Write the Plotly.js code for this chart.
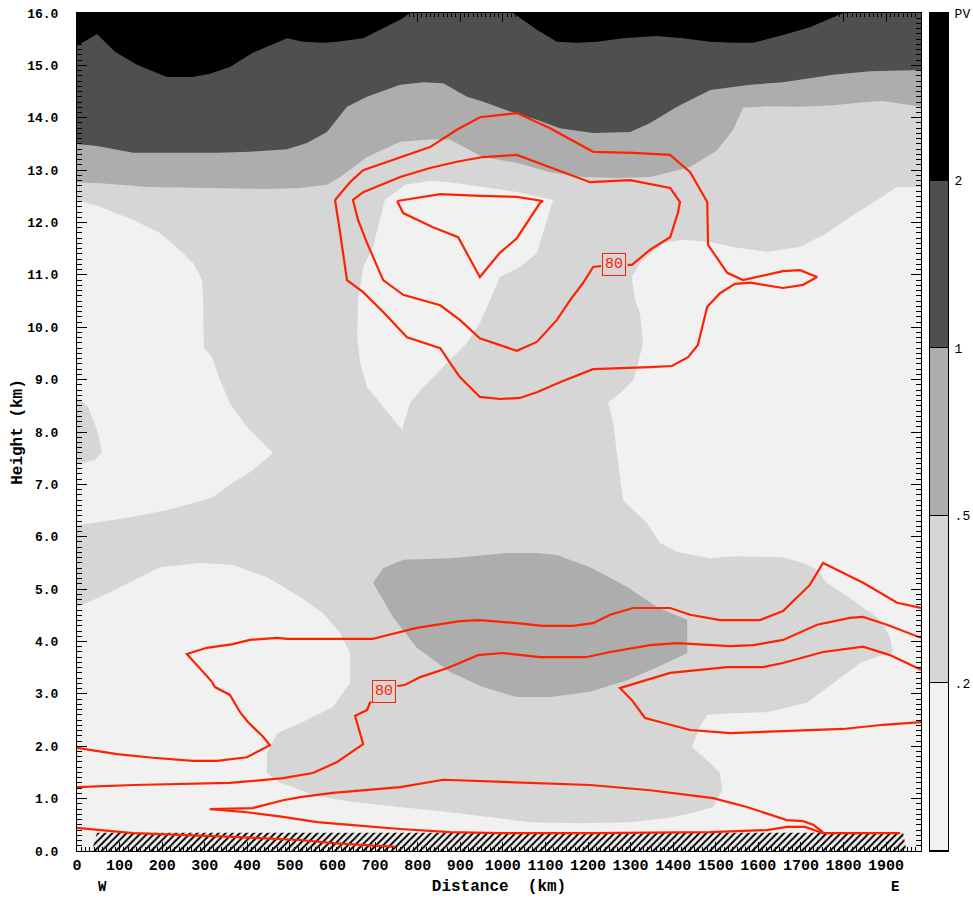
<!DOCTYPE html>
<html><head><meta charset="utf-8">
<script src="https://cdn.plot.ly/plotly-3.0.1.min.js"></script>
<style>html,body{margin:0;padding:0;background:#fff}</style>
</head><body><div id="chart" style="width:973px;height:904px"></div>
<script>
// ---------- axis / tick data ----------
const xTickValues = [0,100,200,300,400,500,600,700,800,900,1000,1100,1200,1300,1400,1500,1600,1700,1800,1900];
const xMaxKm = 1982;
const yMaxKm = 16;
const pvLevelLabels = ['.2', '.5', '1', '2', 'PV'];
const pvColors = ['#f1f1f1', '#d6d6d6', '#adadad', '#4f4f4f', '#000000'];

// ---------- PV shading boundaries (km distance, km height) ----------
// PV = 2 boundary (bottom of black region)
const pv2Km = [0,12,47,89,141,211,270,312,359,413,493,531,578,611,672,759,782,1024,1080,1127,1174,1221,1282,1362,1423,1487,1541,1588,1658,1721,1799];
const pv2H  = [15.37,15.43,15.60,15.26,15.01,14.78,14.78,14.84,14.97,15.24,15.52,15.45,15.43,15.45,15.52,15.87,16.0,16.0,15.68,15.45,15.43,15.45,15.52,15.56,15.52,15.45,15.43,15.43,15.58,15.73,16.0];
// PV = 1 boundary
const pv1Km = [0,47,132,225,329,406,493,540,587,634,681,759,813,860,916,953,1017,1080,1134,1212,1299,1346,1409,1487,1581,1658,1775,1862,1982];
const pv1H  = [13.50,13.46,13.33,13.33,13.33,13.35,13.40,13.52,13.73,14.21,14.40,14.63,14.68,14.66,14.40,14.31,14.12,13.96,13.80,13.71,13.73,13.90,14.21,14.53,14.63,14.68,14.82,14.89,14.91];
// PV = 0.5 boundary (upper)
const pv05Km = [0,54,171,289,446,524,587,618,681,759,836,876,953,1033,1111,1188,1268,1346,1440,1503,1541,1564,1620,1698,1775,1855,1893,1982];
const pv05H  = [12.77,12.75,12.68,12.66,12.64,12.66,12.72,12.87,13.25,13.54,13.59,13.58,13.25,13.14,12.96,12.87,12.85,12.87,13.06,13.38,13.77,14.19,14.22,14.21,14.24,14.30,14.32,14.21];
// mid-level PV > 0.5 blob
const blobKm = [695,719,766,876,1010,1080,1127,1205,1292,1362,1433,1433,1362,1292,1205,1111,1033,953,876,798,742,719];
const blobH  = [5.12,5.40,5.56,5.59,5.69,5.69,5.65,5.42,5.04,4.66,4.41,3.78,3.51,3.26,3.04,2.94,2.94,3.13,3.42,3.88,4.47,4.79];
// PV < 0.2 regions
const lowAKm = [0,54,132,195,242,272,294,296,298,317,336,359,399,460,413,366,319,272,211,132,54,0,0,14,42,59,47,26,0];
const lowAH  = [12.43,12.30,12.05,11.80,11.47,11.23,10.90,10.52,9.62,9.43,8.99,8.55,8.10,7.60,7.27,7.03,6.76,6.64,6.51,6.38,6.28,6.22,7.41,7.41,7.47,7.62,8.04,8.48,8.65];
const lowBKm = [723,770,829,876,953,1033,1118,1094,1080,1040,993,970,946,916,869,813,782,763,719,681,665,658,660,672,695];
const lowBH  = [12.43,12.72,12.79,12.77,12.68,12.58,12.43,11.80,11.42,11.15,10.96,10.52,10.08,9.70,9.32,8.86,8.55,8.04,8.48,8.86,9.32,9.81,10.52,11.15,11.53];
const lowCKm = [1982,1926,1879,1815,1761,1698,1620,1541,1487,1423,1376,1322,1303,1310,1322,1329,1318,1306,1275,1247,1259,1268,1282,1306,1339,1369,1409,1487,1541,1658,1705,1738,1761,1815,1886,1909,1916,1893,1839,1785,1714,1620,1541,1480,1463,1444,1487,1510,1515,1494,1447,1386,1299,1181,1064,986,876,759,641,554,507,477,446,446,470,524,601,641,641,618,578,524,446,366,289,195,132,54,0,0,1982];
const lowCH  = [12.68,12.68,12.43,12.10,11.80,11.53,11.44,11.53,11.63,11.67,11.61,11.23,10.96,10.52,10.27,9.70,9.32,8.99,8.74,8.57,8.17,7.60,6.70,6.51,6.26,5.88,5.71,5.59,5.63,5.61,5.50,5.37,5.12,4.83,4.41,4.09,3.78,3.74,3.59,3.26,2.83,2.65,2.63,2.60,2.37,1.99,1.68,1.49,1.16,0.84,0.73,0.63,0.55,0.53,0.55,0.63,0.74,0.84,0.94,1.07,1.22,1.30,1.49,1.87,2.25,2.44,2.75,3.21,3.78,4.16,4.54,4.85,5.23,5.46,5.50,5.42,5.17,4.85,4.66,0,0];

// ---------- terrain ----------
const groundKm = [35,47,1940,1948];
const groundH  = [0,0.35,0.35,0];

// ---------- RH = 80% contours ----------
const rhOuterKm = [606,641,672,759,829,892,946,1033,1111,1212,1306,1393,1440,1480,1482,1527,1564,1658,1698,1738,1705,1658,1581,1545,1510,1480,1458,1435,1397,1346,1259,1212,1134,1080,1040,993,946,930,899,876,853,775,719,672,634,618,606];
const rhOuterH  = [12.43,12.77,13.00,13.25,13.44,13.77,14.01,14.09,13.80,13.35,13.33,13.29,12.96,12.39,11.57,11.04,10.90,11.07,11.09,10.96,10.81,10.75,10.85,10.83,10.65,10.39,9.66,9.43,9.26,9.24,9.22,9.20,8.95,8.76,8.65,8.63,8.67,8.80,9.05,9.32,9.60,9.81,10.29,10.67,10.90,11.80,12.43];
const rhMiddleKm = [1231,1212,1188,1158,1127,1080,1033,946,899,853,766,719,681,660,648,672,759,829,892,953,1033,1111,1205,1299,1393,1416,1411,1393,1346,1303,1293];
const rhMiddleH  = [11.17,11.15,10.84,10.52,10.14,9.72,9.55,9.79,10.14,10.42,10.62,10.90,11.61,12.05,12.43,12.58,12.87,13.04,13.16,13.25,13.29,13.06,12.77,12.81,12.66,12.39,12.18,11.72,11.48,11.19,11.19];
const rhInnerKm = [752,766,836,895,946,993,1033,1087,1094,1033,946,853,752];
const rhInnerH  = [12.41,12.18,11.91,11.72,10.96,11.42,11.70,12.37,12.41,12.49,12.51,12.54,12.41];
const rhLowAKm = [0,94,178,272,329,399,453,437,402,383,359,324,317,258,305,366,406,470,493,601,695,728,798,899,946,1033,1094,1165,1212,1252,1306,1393,1440,1510,1604,1658,1721,1752,1799,1846,1926,1982];
const rhLowAH  = [1.97,1.85,1.78,1.72,1.72,1.79,2.02,2.18,2.46,2.65,2.98,3.13,3.23,3.76,3.88,3.95,4.03,4.07,4.05,4.05,4.05,4.12,4.26,4.39,4.41,4.35,4.30,4.30,4.35,4.51,4.64,4.64,4.51,4.41,4.41,4.58,5.08,5.50,5.31,5.12,4.74,4.64];
const rhLowBWestKm = [0,132,359,484,554,611,672,653,681,688,691];
const rhLowBWestH  = [1.22,1.26,1.30,1.39,1.49,1.70,2.04,2.58,2.69,2.83,2.85];
const rhLowBEastKm = [752,770,806,869,942,1000,1087,1195,1252,1346,1409,1534,1588,1658,1738,1815,1846,1902,1982];
const rhLowBEastH  = [3.15,3.17,3.32,3.49,3.74,3.78,3.70,3.70,3.80,3.93,3.97,3.91,3.93,4.03,4.32,4.45,4.47,4.32,4.07];
const rhLowCKm = [1982,1909,1846,1752,1658,1611,1527,1440,1393,1315,1275,1303,1334,1440,1534,1658,1799,1893,1982];
const rhLowCH  = [3.46,3.74,3.90,3.80,3.59,3.51,3.51,3.44,3.40,3.21,3.11,2.88,2.54,2.31,2.25,2.29,2.33,2.41,2.46];
const rhSfcKm = [0,132,366,524,601,681,747];
const rhSfcH  = [0.44,0.34,0.27,0.21,0.15,0.11,0.08];
const rhLoopKm = [1933,1752,1710,1667,1620,1487,1212,993,876,759,641,564,484,399,312,413,484,524,601,681,759,860,993,1205,1346,1494,1573,1611,1667,1705,1729,1752];
const rhLoopH  = [0.34,0.34,0.46,0.46,0.40,0.36,0.34,0.34,0.36,0.42,0.50,0.55,0.65,0.74,0.80,0.82,0.97,1.03,1.11,1.16,1.22,1.36,1.32,1.26,1.16,1.01,0.84,0.74,0.59,0.57,0.50,0.36];
// contour labels
const rhLabelKm = [1262, 721];
const rhLabelH  = [11.2, 3.04];
const rhLabelText = ['80', '80'];

// ---------- build ----------
const RED = '#ff2200';
const FONT = 'Liberation Mono, DejaVu Sans Mono, monospace';

function region(xs, ys, color) {
  return {type:'scatter', mode:'lines', x:xs, y:ys, fill:'toself', fillcolor:color,
          line:{width:0, color:color}, hoverinfo:'skip', showlegend:false, xaxis:'x', yaxis:'y'};
}
function topBand(xs, ys, color) {
  // close the band along the top of the domain
  return region(xs.concat([xMaxKm, 0]), ys.concat([yMaxKm, yMaxKm]), color);
}
function rhLine(xs, ys) {
  return {type:'scatter', mode:'lines', x:xs, y:ys, line:{color:RED, width:2.2},
          hoverinfo:'skip', showlegend:false, xaxis:'x', yaxis:'y'};
}

const traces = [
  region(lowAKm, lowAH, pvColors[0]),
  region(lowBKm, lowBH, pvColors[0]),
  region(lowCKm, lowCH, pvColors[0]),
  region(blobKm, blobH, pvColors[2]),
  topBand(pv05Km, pv05H, pvColors[2]),
  topBand(pv1Km, pv1H, pvColors[3]),
  topBand(pv2Km, pv2H, pvColors[4]),
  {type:'scatter', mode:'lines', x:groundKm, y:groundH, fill:'toself',
   fillcolor:'rgba(0,0,0,0)', fillpattern:{shape:'/', fgcolor:'#000', bgcolor:'rgba(0,0,0,0)', size:5, solidity:0.4},
   line:{width:0}, hoverinfo:'skip', showlegend:false, xaxis:'x', yaxis:'y'},
  rhLine(rhOuterKm, rhOuterH),
  rhLine(rhMiddleKm, rhMiddleH),
  rhLine(rhInnerKm, rhInnerH),
  rhLine(rhLowAKm, rhLowAH),
  rhLine(rhLowBWestKm, rhLowBWestH),
  rhLine(rhLowBEastKm, rhLowBEastH),
  rhLine(rhLowCKm, rhLowCH),
  rhLine(rhSfcKm, rhSfcH),
  rhLine(rhLoopKm, rhLoopH),
  // empty trace that carries the height-label axis
  {type:'scatter', mode:'lines', x:[], y:[], xaxis:'x', yaxis:'y3', showlegend:false, hoverinfo:'skip'},
  // colour key
  {type:'heatmap', x:[0.5], y:[0.5,1.5,2.5,3.5,4.5], z:[[0],[1],[2],[3],[4]],
   zmin:0, zmax:4, showscale:false, ygap:1, hoverinfo:'skip', xaxis:'x2', yaxis:'y2',
   colorscale:[[0,pvColors[0]],[0.125,pvColors[0]],[0.125,pvColors[1]],[0.375,pvColors[1]],
               [0.375,pvColors[2]],[0.625,pvColors[2]],[0.625,pvColors[3]],[0.875,pvColors[3]],
               [0.875,pvColors[4]],[1,pvColors[4]]]}
];

const annotations = rhLabelKm.map((k, i) => ({
  x:k, y:rhLabelH[i], xref:'x', yref:'y', text:rhLabelText[i], showarrow:false,
  font:{family:FONT, size:15, color:RED}, bordercolor:RED, borderwidth:1, borderpad:2,
  bgcolor:'rgba(0,0,0,0)'
}));
annotations.push({x:59, y:-0.043, xref:'x', yref:'paper', text:'W', showarrow:false,
  font:{family:FONT, size:14, color:'#000', weight:'bold'}, yanchor:'middle'});
annotations.push({x:1921, y:-0.043, xref:'x', yref:'paper', text:'E', showarrow:false,
  font:{family:FONT, size:14, color:'#000', weight:'bold'}, yanchor:'middle'});

const layout = {
  width:973, height:904,
  margin:{l:77, r:25, t:13, b:53, pad:0},
  paper_bgcolor:'#ffffff', plot_bgcolor:'#000000',
  showlegend:false,
  xaxis:{domain:[0, 844/871], range:[0, xMaxKm], tickmode:'array', tickvals:xTickValues,
    ticktext:xTickValues.map(String), ticks:'inside', ticklen:9, tickwidth:1, tickcolor:'#000',
    showline:true, linecolor:'#000', linewidth:1, mirror:'ticks', showgrid:false, zeroline:false,
    minor:{tick0:0, dtick:10, ticks:'inside', ticklen:4, tickcolor:'#000', showgrid:false},
    tickfont:{family:FONT, size:15, color:'#000', weight:'bold'},
    title:{text:'Distance  (km)', font:{family:FONT, size:16, color:'#000', weight:'bold'}, standoff:5}},
  yaxis:{domain:[0,1], range:[0, yMaxKm], dtick:1, tick0:0, showticklabels:false,
    ticks:'inside', ticklen:10, tickwidth:1, tickcolor:'#000',
    showline:true, linecolor:'#000', linewidth:1, mirror:'ticks', showgrid:false, zeroline:false,
    minor:{tick0:0, dtick:0.1, ticks:'inside', ticklen:5, tickcolor:'#000', showgrid:false}},
  // tick labels and title for height, set away from the frame
  yaxis3:{overlaying:'y', anchor:'x', side:'left', range:[0, yMaxKm], dtick:1, tick0:0, tickformat:'.1f',
    ticks:'outside', ticklen:15, tickcolor:'rgba(0,0,0,0)', showline:false, showgrid:false, zeroline:false,
    tickfont:{family:FONT, size:13, color:'#000', weight:'bold'},
    title:{text:'Height (km)', font:{family:FONT, size:16, color:'#000', weight:'bold'}, standoff:0}},
  xaxis2:{domain:[853/871, 1], anchor:'y2', range:[0,1], showticklabels:false, ticks:'',
    showline:true, linecolor:'#000', linewidth:1, mirror:true, showgrid:false, zeroline:false},
  yaxis2:{domain:[0,1], anchor:'x2', side:'right', range:[0,5], tickmode:'array',
    tickvals:[1,2,3,4,5], ticktext:pvLevelLabels, ticks:'',
    showline:true, linecolor:'#000', linewidth:1, mirror:true, showgrid:false, zeroline:false,
    tickfont:{family:FONT, size:13, color:'#000'}, ticklabelstandoff:3},
  shapes:[{type:'rect', xref:'x domain', yref:'y domain', x0:0, x1:1, y0:0, y1:1,
    fillcolor:pvColors[1], line:{width:0}, layer:'below'}],
  annotations:annotations
};

Plotly.newPlot('chart', traces, layout, {staticPlot:true, displayModeBar:false});
</script>
</body></html>
